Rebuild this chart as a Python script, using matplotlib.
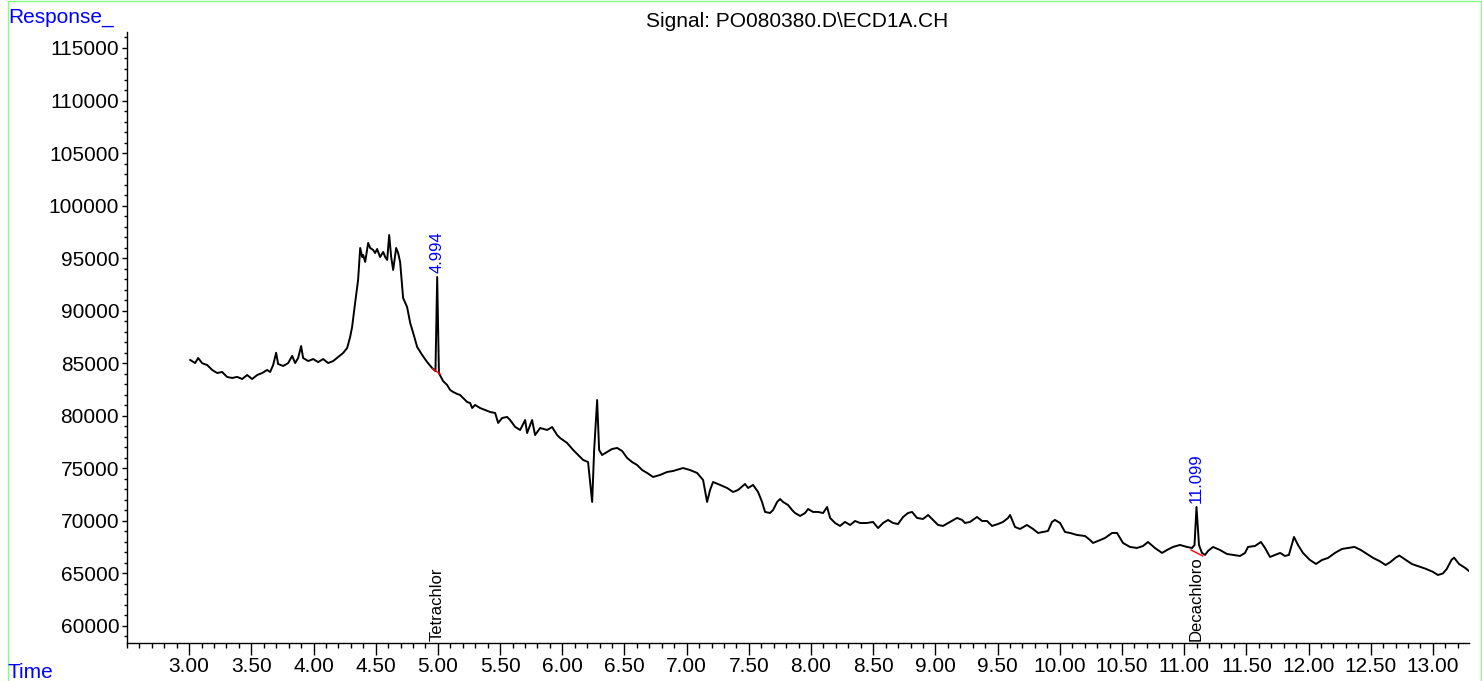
import matplotlib
matplotlib.use("Agg")
import matplotlib.pyplot as plt
from matplotlib.ticker import MultipleLocator, FormatStrFormatter
from matplotlib.patches import Rectangle

plt.rcParams['font.family'] = ['Liberation Sans', 'DejaVu Sans']

# retention time (min) and detector response
rt = [3.008, 3.048, 3.072, 3.105, 3.145, 3.185, 3.225, 3.265, 3.305, 3.346,
      3.386, 3.426, 3.466, 3.506, 3.547, 3.587, 3.627, 3.651, 3.675, 3.699,
      3.715, 3.756, 3.796, 3.828, 3.852, 3.876, 3.900, 3.916, 3.957, 3.997,
      4.037, 4.077, 4.117, 4.158, 4.198, 4.238, 4.270, 4.294, 4.310, 4.334,
      4.358, 4.375, 4.391, 4.399, 4.415, 4.439, 4.455, 4.479, 4.495, 4.511,
      4.535, 4.560, 4.576, 4.592, 4.608, 4.624, 4.640, 4.664, 4.680, 4.696,
      4.720, 4.752, 4.777, 4.801, 4.833, 4.873, 4.913, 4.953, 4.980, 4.994,
      5.008, 5.042, 5.074, 5.098, 5.122, 5.154, 5.178, 5.203, 5.235, 5.259,
      5.275, 5.299, 5.339, 5.379, 5.420, 5.460, 5.484, 5.516, 5.556, 5.580,
      5.621, 5.661, 5.701, 5.717, 5.757, 5.781, 5.822, 5.878, 5.918, 5.958,
      5.982, 6.039, 6.087, 6.127, 6.167, 6.207, 6.240, 6.256, 6.280, 6.296,
      6.320, 6.360, 6.400, 6.441, 6.481, 6.521, 6.561, 6.601, 6.642, 6.682,
      6.730, 6.786, 6.842, 6.891, 6.971, 7.027, 7.084, 7.132, 7.164, 7.188,
      7.212, 7.269, 7.325, 7.373, 7.413, 7.469, 7.494, 7.534, 7.574, 7.606,
      7.630, 7.670, 7.695, 7.727, 7.751, 7.775, 7.815, 7.847, 7.871, 7.912,
      7.952, 7.976, 8.016, 8.056, 8.097, 8.129, 8.153, 8.193, 8.233, 8.273,
      8.314, 8.354, 8.394, 8.450, 8.498, 8.539, 8.579, 8.619, 8.659, 8.699,
      8.740, 8.780, 8.812, 8.852, 8.900, 8.941, 8.981, 9.021, 9.061, 9.117,
      9.174, 9.214, 9.238, 9.278, 9.334, 9.375, 9.415, 9.455, 9.503, 9.543,
      9.584, 9.600, 9.640, 9.680, 9.736, 9.785, 9.825, 9.865, 9.905, 9.937,
      9.961, 10.002, 10.042, 10.082, 10.138, 10.203, 10.243, 10.267, 10.307, 10.363,
      10.420, 10.460, 10.508, 10.564, 10.620, 10.669, 10.709, 10.765, 10.822, 10.862,
      10.910, 10.966, 11.022, 11.063, 11.083, 11.099, 11.119, 11.143, 11.168, 11.192,
      11.232, 11.288, 11.344, 11.392, 11.449, 11.489, 11.513, 11.569, 11.617, 11.650,
      11.690, 11.730, 11.772, 11.810, 11.842, 11.883, 11.915, 11.955, 12.011, 12.060,
      12.108, 12.156, 12.212, 12.269, 12.317, 12.370, 12.420, 12.470, 12.520, 12.570,
      12.620, 12.660, 12.700, 12.730, 12.780, 12.830, 12.880, 12.940, 13.000, 13.040,
      13.080, 13.110, 13.150, 13.170, 13.210, 13.260, 13.290]
resp = [85310, 85020, 85500, 85000, 84830, 84360, 84070, 84170, 83690, 83600,
        83700, 83500, 83880, 83500, 83880, 84070, 84360, 84170, 84830, 86000,
        84930, 84740, 85020, 85700, 85020, 85500, 86640, 85500, 85210, 85400,
        85110, 85400, 85020, 85210, 85600, 85980, 86450, 87500, 88450, 90730,
        92920, 95970, 95110, 95300, 94640, 96450, 95970, 95780, 95490, 95870,
        95110, 95590, 95110, 94830, 97200, 95110, 93870, 95970, 95490, 94640,
        91210, 90350, 88830, 87880, 86550, 85790, 85120, 84550, 84250, 93210,
        84050, 83300, 82930, 82460, 82270, 82080, 81980, 81690, 81310, 81220,
        80740, 81030, 80740, 80550, 80360, 80270, 79320, 79790, 79890, 79600,
        78940, 78650, 79600, 78360, 79600, 78170, 78840, 78650, 78930, 78170,
        77890, 77410, 76750, 76270, 75800, 75600, 71800, 76750, 81500, 76750,
        76270, 76560, 76840, 76940, 76650, 75990, 75600, 75320, 74840, 74560,
        74180, 74370, 74650, 74750, 75030, 74840, 74560, 73890, 71800, 72940,
        73700, 73420, 73130, 72750, 72940, 73510, 73130, 73420, 72750, 71800,
        70850, 70750, 71040, 71800, 72080, 71800, 71510, 71040, 70750, 70470,
        70750, 71130, 70850, 70850, 70750, 71320, 70280, 69800, 69520, 69900,
        69610, 69990, 69800, 69800, 69900, 69320, 69800, 70090, 69800, 69700,
        70370, 70750, 70850, 70280, 70180, 70560, 70090, 69610, 69520, 69900,
        70280, 70090, 69800, 69900, 70370, 69990, 69990, 69520, 69700, 69900,
        70280, 70560, 69420, 69230, 69610, 69230, 68850, 68940, 69040, 69900,
        70090, 69800, 68940, 68850, 68660, 68560, 68180, 67900, 68090, 68370,
        68850, 68850, 67900, 67520, 67420, 67610, 67990, 67420, 66950, 67230,
        67520, 67710, 67520, 67420, 67700, 71320, 67700, 66950, 66760, 67140,
        67520, 67230, 66850, 66760, 66660, 66950, 67520, 67610, 67990, 67420,
        66570, 66760, 66950, 66660, 66760, 68470, 67710, 66950, 66280, 65900,
        66280, 66470, 66950, 67330, 67420, 67520, 67230, 66850, 66470, 66180,
        65800, 66100, 66500, 66700, 66300, 65900, 65700, 65450, 65150, 64850,
        65000, 65400, 66300, 66500, 65900, 65520, 65230]

# integrated peaks: apex time, apex response, compound name, baseline start/end
peak_rt = [4.994, 11.099]
peak_top = [93210, 71320]
peak_name = ['Tetrachlor', 'Decachloro']
base_t0 = [4.955, 11.055]
base_y0 = [84500, 67230]
base_t1 = [5.020, 11.150]
base_y1 = [83950, 66660]

W, H = 1482, 681
fig = plt.figure(figsize=(W / 100, H / 100), dpi=100)
ax = fig.add_axes([127 / W, 1 - 643 / H, (1469 - 127) / W, (643 - 32) / H])

ax.plot(rt, resp, color='black', linewidth=1.4)

# baselines of the integrated peaks (red)
for i in range(len(peak_rt)):
    ax.plot([base_t0[i], base_t1[i]], [base_y0[i], base_y1[i]],
            color='red', linewidth=1.0)

ax.set_xlim(2.5, 13.29)
ax.set_ylim(58380, 116520)

# peak labels: retention time above apex, compound name at bottom
for i in range(len(peak_rt)):
    ax.annotate(f'{peak_rt[i]:.3f}', xy=(peak_rt[i], peak_top[i]),
                xytext=(0, 3), textcoords='offset points',
                rotation=90, ha='center', va='bottom',
                color='blue', fontsize=12)
    ax.annotate(peak_name[i], xy=(peak_rt[i], 58380),
                xytext=(0, 1.5), textcoords='offset points',
                rotation=90, ha='center', va='bottom',
                color='black', fontsize=12)

ax.spines['top'].set_visible(False)
ax.spines['right'].set_visible(False)
for s in ('left', 'bottom'):
    ax.spines[s].set_linewidth(1.0)

ax.xaxis.set_major_locator(MultipleLocator(0.5))
ax.xaxis.set_minor_locator(MultipleLocator(0.1))
ax.xaxis.set_major_formatter(FormatStrFormatter('%.2f'))
ax.yaxis.set_major_locator(MultipleLocator(5000))
ax.yaxis.set_minor_locator(MultipleLocator(1000))
ax.tick_params(axis='x', which='major', length=8.6, width=1, labelsize=15, pad=1.5)
ax.tick_params(axis='x', which='minor', length=3.6, width=1)
ax.tick_params(axis='y', which='major', length=3.6, width=1, labelsize=15, pad=2)
ax.tick_params(axis='y', which='minor', length=2.2, width=1)
ax.set_xticks([t for t in ax.get_xticks() if 2.9 < t < 13.29])

fig.text(8 / W, 1 - 23 / H, 'Response_', color='blue', fontsize=15,
         ha='left', va='baseline')
fig.text(8 / W, 3 / H, 'Time', color='blue', fontsize=15,
         ha='left', va='baseline')
fig.text(797 / W, 1 - 27 / H, 'Signal: PO080380.D\\ECD1A.CH', color='black',
         fontsize=15, ha='center', va='baseline')

# light green frame round the plot
fig.patches.append(Rectangle((7.5 / W, -0.01), (1480.5 - 7.5) / W, 1.01 - 1.5 / H,
                             transform=fig.transFigure, fill=False,
                             edgecolor='#80ff80', linewidth=1.0))

fig.savefig('out.png', dpi=100)
